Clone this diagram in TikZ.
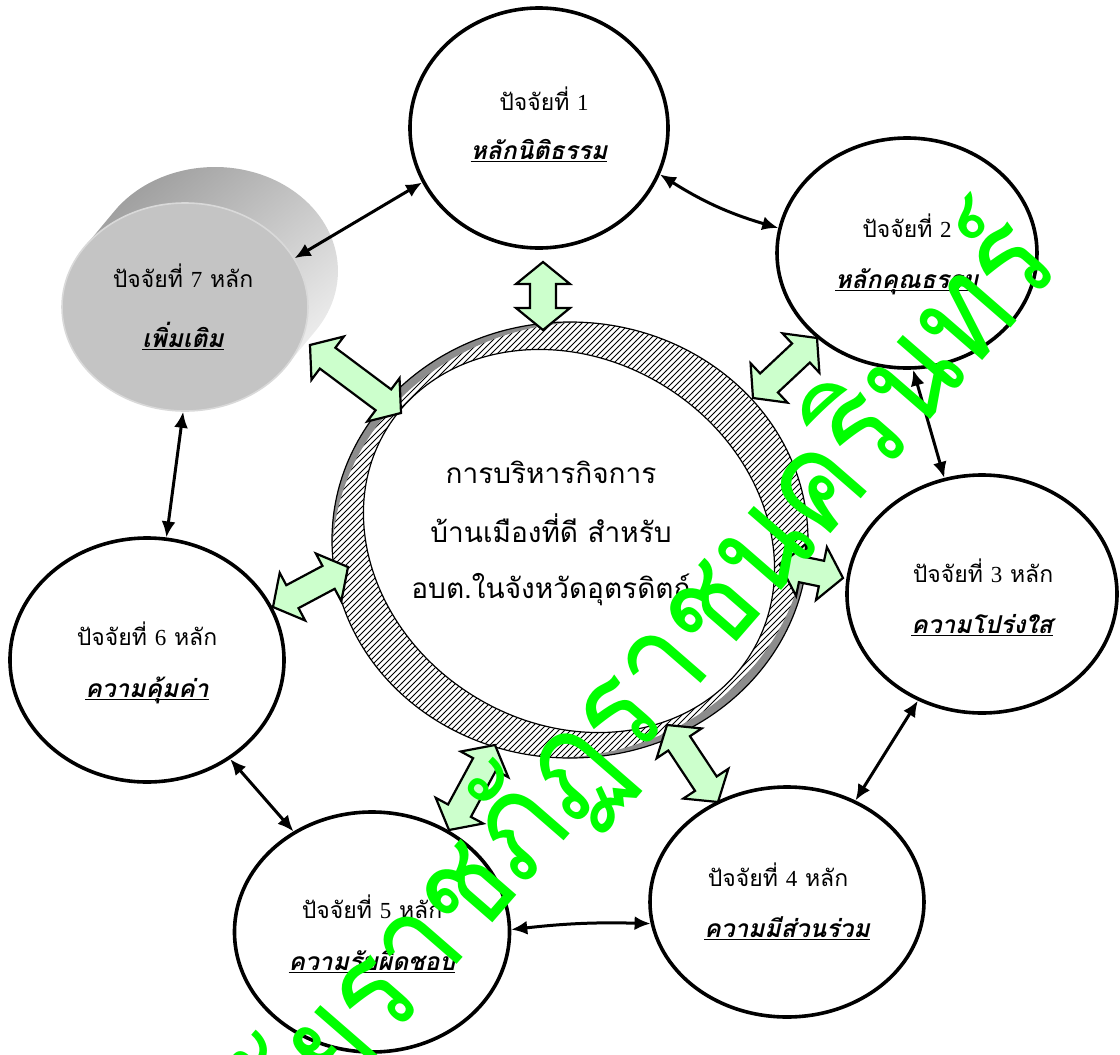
\documentclass[tikz,border=0pt]{standalone}
\usepackage{fontspec}
\usetikzlibrary{shapes.geometric,arrows.meta,calc,patterns}
\newfontfamily\thai[Script=Thai]{Loma}
\newfontfamily\thaisl[Script=Thai,FakeSlant=0.22]{Loma}
\newfontfamily\lat{Liberation Serif}
\definecolor{bgreen}{HTML}{CCFFCC}
\definecolor{wgreen}{HTML}{00FF00}
\definecolor{face}{HTML}{C4C4C4}
\definecolor{sidedark}{HTML}{9C9C9C}
\definecolor{sidelight}{HTML}{ECECEC}
\newcommand\ul[1]{\underline{\raisebox{0pt}[\height][0pt]{#1}}}
\newcommand\blockarrow[2]{%
  \draw[barrow] (#1)
   -- ($(#1)!11pt!(#2)!13.5pt!90:(#2)$)
   -- ($(#1)!11pt!(#2)!6.5pt!90:(#2)$)
   -- ($(#2)!11pt!(#1)!6.5pt!-90:(#1)$)
   -- ($(#2)!11pt!(#1)!13.5pt!-90:(#1)$)
   -- (#2)
   -- ($(#2)!11pt!(#1)!13.5pt!90:(#1)$)
   -- ($(#2)!11pt!(#1)!6.5pt!90:(#1)$)
   -- ($(#1)!11pt!(#2)!6.5pt!-90:(#2)$)
   -- ($(#1)!11pt!(#2)!13.5pt!-90:(#2)$)
   -- cycle;}
\tikzset{
  factor/.style={ellipse, draw=black, line width=1.8pt, fill=white, inner sep=0pt},
  ftxt/.style={font=\thai\fontsize{11.5}{13}\selectfont, inner sep=0pt, anchor=base},
  fbold/.style={font=\thaisl\bfseries\fontsize{12.3}{14}\selectfont, inner sep=0pt, anchor=base},
  ctxt/.style={font=\thai\fontsize{14}{16}\selectfont, inner sep=0pt, anchor=base},
  link/.style={line width=1.5pt, {Latex[length=8pt,width=7pt]}-{Latex[length=8pt,width=7pt]}},
  barrow/.style={draw=black, line width=1.1pt, fill=bgreen, line join=miter, miter limit=4},
  wmark/.style={text=wgreen, font=\thai\fontsize{68}{68}\selectfont, inner sep=0pt},
}
\begin{document}
\begin{tikzpicture}[x=0.5pt,y=-0.5pt]
\useasboundingbox (0,0) rectangle (1120,1055);
\clip (0,0) rectangle (1120,1055);
% cylinder 7
\shade[top color=sidedark, bottom color=sidelight, shading angle=40]
  (285.5,366.9) -- ++(30,-36) arc[start angle=35.17, end angle=-144.83, x radius=123, y radius=104] -- ++(-30,36) -- cycle;
\node[ellipse, fill=face, draw=white!85!black, line width=0.8pt, minimum width=123pt, minimum height=104pt, inner sep=0pt] (c7) at (185,307) {};
% factor circles
\node[factor, minimum width=129pt, minimum height=120pt] (c1) at (539,128) {};
\node[factor, minimum width=130pt, minimum height=115pt] (c2) at (907,253) {};
\node[factor, minimum width=135pt, minimum height=119pt] (c3) at (982,594) {};
\node[factor, minimum width=137pt, minimum height=115pt] (c4) at (787,902) {};
\node[factor, minimum width=137.5pt, minimum height=120pt] (c5) at (372,932) {};
\node[factor, minimum width=137pt, minimum height=122pt] (c6) at (147,660) {};
% central ring
\fill[pattern=north east lines] (570,540) ellipse [x radius=238, y radius=218];
\begin{scope}
  \clip (570,540) ellipse [x radius=238, y radius=218];
  \fill[black!45, even odd rule] (570,540) ellipse [x radius=238, y radius=218]
     (590,560) ellipse [x radius=258, y radius=238];
  \fill[black!45, even odd rule] (570,540) ellipse [x radius=238, y radius=218]
     (550,520) ellipse [x radius=258, y radius=238];
\end{scope}
\fill[white, rotate around={-32:(569,541)}] (569,541) ellipse [x radius=214, y radius=182];
\draw[line width=0.6pt] (570,540) ellipse [x radius=238, y radius=218];
\draw[line width=0.6pt, rotate around={-32:(569,541)}] (569,541) ellipse [x radius=214, y radius=182];
\node[ellipse, minimum width=238pt, minimum height=218pt, inner sep=0pt] (ring) at (570,540) {};
\node[ctxt] (t0a) at (551,483) {การบริหารกิจการ};
\node[ctxt] (t0b) at (551,542) {บ้านเมืองที่ดี สำหรับ};
\node[ctxt] (t0c) at (551,598) {อบต.ในจังหวัดอุตรดิตถ์};
% labels
\node[ftxt] (t1a) at (544,110) {ปัจจัยที่ {\lat 1}};
\node[fbold] (t1b) at (539,159) {\ul{หลักนิติธรรม}};
\node[ftxt] (t2a) at (907,237) {ปัจจัยที่ {\lat 2}};
\node[fbold] (t2b) at (907,288) {\ul{หลักคุณธรรม}};
\node[ftxt] (t3a) at (983,582) {ปัจจัยที่ {\lat 3} หลัก};
\node[fbold] (t3b) at (982,633) {\ul{ความโปร่งใส}};
\node[ftxt] (t4a) at (778,886) {ปัจจัยที่ {\lat 4} หลัก};
\node[fbold] (t4b) at (787,937) {\ul{ความมีส่วนร่วม}};
\node[ftxt] (t5a) at (372,918) {ปัจจัยที่ {\lat 5} หลัก};
\node[fbold] (t5b) at (372,970) {\ul{ความรับผิดชอบ}};
\node[ftxt] (t6a) at (147,645) {ปัจจัยที่ {\lat 6} หลัก};
\node[fbold] (t6b) at (147,697) {\ul{ความคุ้มค่า}};
\node[ftxt] (t7a) at (183,287) {ปัจจัยที่ {\lat 7} หลัก};
\node[fbold] (t7b) at (183,347) {\ul{เพิ่มเติม}};
% block arrows
\coordinate (bA1) at (543,262); \coordinate (bA2) at (543,330);
\coordinate (bB1) at (310,345); \coordinate (bB2) at (401,413);
\coordinate (bC1) at (817,338); \coordinate (bC2) at (753,398);
\coordinate (bD1) at (780,565); \coordinate (bD2) at (843,578);
\coordinate (bE1) at (273,607); \coordinate (bE2) at (348,567);
\coordinate (bF1) at (495,745); \coordinate (bF2) at (449,830);
\coordinate (bG1) at (667,725); \coordinate (bG2) at (718,802);
\blockarrow{bA1}{bA2}
\blockarrow{bB1}{bB2}
\blockarrow{bC1}{bC2}
\blockarrow{bD1}{bD2}
\blockarrow{bE1}{bE2}
\blockarrow{bF1}{bF2}
\blockarrow{bG1}{bG2}
% links
\draw[link] (c7.24) -- (c1.205);
\draw[link] (c1.-21) to[bend right=8] (c2.169);
\draw[link] (c2.-87) -- (c3.108);
\draw[link] (c3.239) -- (c4.56);
\draw[link] (c5.1) to[bend left=4] (c4.189);
\draw[link] (c6.-50) -- (c5.128);
\draw[link] (c6.81) -- (c7.-91);
% watermark
\node[wmark, rotate=49, xscale=0.88, anchor=base east] (wm) at (1064,266) {มหาวิทยาลัยราชภัฏราชนครินทร์};
\end{tikzpicture}
\end{document}
